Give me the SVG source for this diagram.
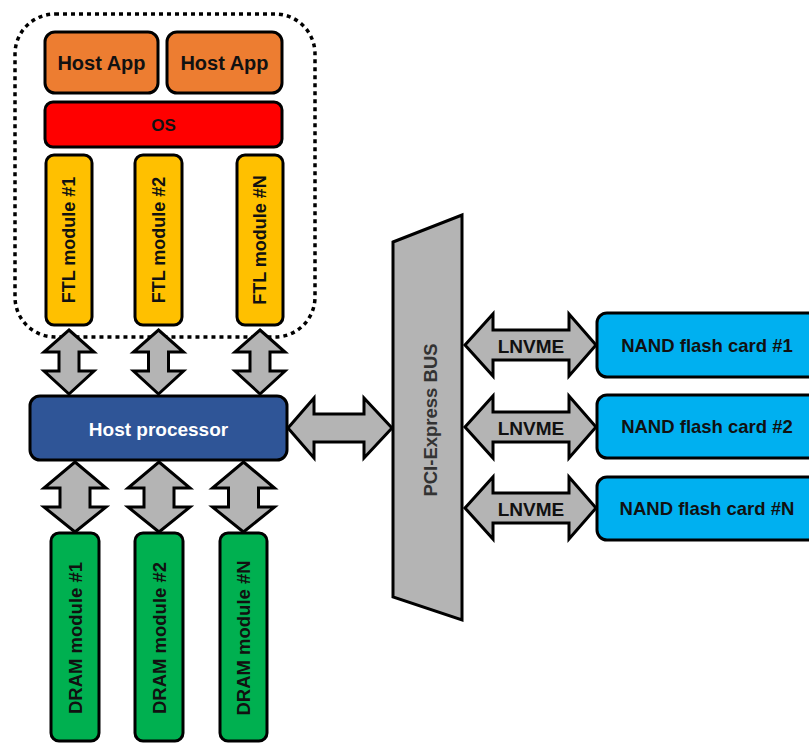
<svg xmlns="http://www.w3.org/2000/svg" width="809" height="744" viewBox="0 0 809 744">
  <style>
    .box { stroke: #000; stroke-width: 3; }
    .lbl { font-family: "Liberation Sans", Arial, sans-serif; font-weight: bold; fill: #111; text-anchor: middle; dominant-baseline: central; }
    .arrow { fill: #B4B4B4; stroke: #000; stroke-width: 3; stroke-linejoin: miter; }
    .host { fill: #ED7D31; }
    .os { fill: #FF0000; }
    .ftl { fill: #FFC000; }
    .cpu { fill: #2F5597; }
    .dram { fill: #00B050; }
    .nand { fill: #00B0F0; }
    .bus { fill: #B4B4B4; }
  </style>

  <!-- host software boundary -->
  <rect id="host-boundary" x="15" y="14" width="300" height="323" rx="40" ry="40" fill="none" stroke="#000" stroke-width="3.5" stroke-dasharray="4 4"/>

  <g id="host-app-1">
    <rect class="box host" x="45" y="32" width="113" height="61" rx="10"/>
    <text class="lbl" x="101.5" y="63" font-size="20">Host App</text>
  </g>
  <g id="host-app-2">
    <rect class="box host" x="167" y="32" width="115" height="61" rx="10"/>
    <text class="lbl" x="224.5" y="63" font-size="20">Host App</text>
  </g>
  <g id="os">
    <rect class="box os" x="45" y="102" width="237" height="45" rx="8"/>
    <text class="lbl" x="163.5" y="125" font-size="17">OS</text>
  </g>

  <g id="ftl-1">
    <rect class="box ftl" x="46" y="155" width="46" height="170" rx="8"/>
    <text class="lbl" font-size="18" transform="translate(69 240) rotate(-90)">FTL module #1</text>
  </g>
  <g id="ftl-2">
    <rect class="box ftl" x="135" y="155" width="47" height="170" rx="8"/>
    <text class="lbl" font-size="18" transform="translate(158.5 240) rotate(-90)">FTL module #2</text>
  </g>
  <g id="ftl-n">
    <rect class="box ftl" x="237" y="155" width="46" height="170" rx="8"/>
    <text class="lbl" font-size="18" transform="translate(260 240) rotate(-90)">FTL module #N</text>
  </g>

  <!-- connectors -->
  <g id="connectors">
    <!-- FTL <-> host processor -->
    <path class="arrow" d="M69 330 L94 352 L79 352 L79 371 L94 371 L69 394 L44 371 L59 371 L59 352 L44 352 Z"/>
    <path class="arrow" d="M158.5 330 L183.5 352 L168.5 352 L168.5 371 L183.5 371 L158.5 394 L133.5 371 L148.5 371 L148.5 352 L133.5 352 Z"/>
    <path class="arrow" d="M260 330 L285 352 L270 352 L270 371 L285 371 L260 394 L235 371 L250 371 L250 352 L235 352 Z"/>
    <!-- host processor <-> DRAM -->
    <path class="arrow" d="M75 462 L106 488 L90 488 L90 507 L106 507 L75 532 L44 507 L60 507 L60 488 L44 488 Z"/>
    <path class="arrow" d="M159 462 L190 488 L174 488 L174 507 L190 507 L159 532 L128 507 L144 507 L144 488 L128 488 Z"/>
    <path class="arrow" d="M243.5 462 L274.5 488 L258.5 488 L258.5 507 L274.5 507 L243.5 532 L212.5 507 L228.5 507 L228.5 488 L212.5 488 Z"/>
    <!-- host processor <-> PCIe bus -->
    <path class="arrow" d="M288 428 L314 398 L314 414 L364 414 L364 398 L392 428 L364 458 L364 442 L314 442 L314 458 Z"/>
    <!-- PCIe bus <-> NAND cards -->
    <g id="lnvme-1">
      <path class="arrow" d="M465 345 L493 314 L493 330 L569 330 L569 314 L596 345 L569 376 L569 360 L493 360 L493 376 Z"/>
      <text class="lbl" x="531" y="346" font-size="19">LNVME</text>
    </g>
    <g id="lnvme-2">
      <path class="arrow" d="M465 427 L493 396 L493 412 L569 412 L569 396 L596 427 L569 458 L569 442 L493 442 L493 458 Z"/>
      <text class="lbl" x="531" y="428" font-size="19">LNVME</text>
    </g>
    <g id="lnvme-n">
      <path class="arrow" d="M465 508 L493 477 L493 493 L569 493 L569 477 L596 508 L569 539 L569 523 L493 523 L493 539 Z"/>
      <text class="lbl" x="531" y="509" font-size="19">LNVME</text>
    </g>
  </g>

  <g id="host-processor">
    <rect class="box cpu" x="30" y="396" width="257" height="64" rx="10"/>
    <text class="lbl" x="158.5" y="429" font-size="19" style="fill:#fff">Host processor</text>
  </g>

  <g id="dram-1">
    <rect class="box dram" x="51" y="533" width="48" height="208" rx="8"/>
    <text class="lbl" font-size="18.5" transform="translate(75 638) rotate(-90)">DRAM module #1</text>
  </g>
  <g id="dram-2">
    <rect class="box dram" x="135" y="533" width="48" height="208" rx="8"/>
    <text class="lbl" font-size="18.5" transform="translate(159 638) rotate(-90)">DRAM module #2</text>
  </g>
  <g id="dram-n">
    <rect class="box dram" x="220" y="533" width="47" height="208" rx="8"/>
    <text class="lbl" font-size="18.5" transform="translate(243.5 638) rotate(-90)">DRAM module #N</text>
  </g>

  <g id="pcie-bus">
    <polygon class="box bus" points="393,242 462,215 462,620 393,597"/>
    <text class="lbl" font-size="18.5" style="fill:#333" transform="translate(430 420) rotate(-90)">PCI-Express BUS</text>
  </g>

  <g id="nand-1">
    <rect class="box nand" x="597" y="313" width="230" height="64" rx="10"/>
    <text class="lbl" x="707" y="345" font-size="18.5">NAND flash card #1</text>
  </g>
  <g id="nand-2">
    <rect class="box nand" x="597" y="395" width="230" height="63" rx="10"/>
    <text class="lbl" x="707" y="426.5" font-size="18.5">NAND flash card #2</text>
  </g>
  <g id="nand-n">
    <rect class="box nand" x="597" y="477" width="230" height="63" rx="10"/>
    <text class="lbl" x="707" y="508.5" font-size="18.5">NAND flash card #N</text>
  </g>
</svg>
